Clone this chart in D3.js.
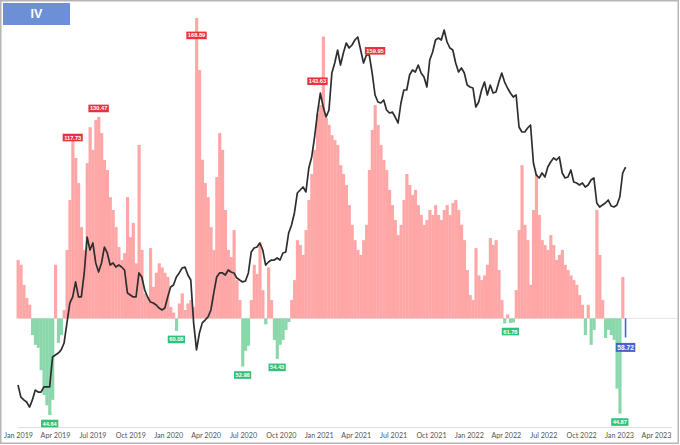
<!DOCTYPE html>
<html><head><meta charset="utf-8">
<script src="https://cdn.jsdelivr.net/npm/d3@7"></script>
<style>body{margin:0;background:#fff}svg{display:block}</style>
</head><body>
<svg id="c" width="680" height="445"></svg>
<script>
// ---- data (weekly, starting 2019-01-01) ----
const startDate = "2019-01-01";
const ivValues = [
77.2,75.9,70.7,67.5,65.9,59.2,57.2,56.6,52.3,47.9,
46.2,44.64,47.1,75.9,57.6,59.2,64.7,80,95.4,117.7,
110.7,101.3,86.7,80,108.7,123.4,113.9,126.6,128,120.9,
109.9,106.1,96.4,92.1,86.7,80.8,77.2,79.1,96.4,83.7,
88,76.3,115.9,80,68.6,67.7,80.5,70.2,73.8,76.3,
75.2,73.8,72.7,65.4,64.1,60.08,66.2,68.6,64.7,66.2,
67,65.4,181.5,151,110,101.3,96.4,86.7,80,103.5,
120.9,113.9,92.1,80,78,85.8,71.9,67,52.98,56,
57,67,75.9,73.5,82,69.4,61.5,75.2,67,58.2,
54.43,57.2,58.2,60.3,62,67,71.9,82.8,81.4,78.6,
85.8,95.4,104.6,113.9,129.4,133.5,170,127.5,124.4,120,
117.9,115.9,107.9,104.6,100.6,93.7,87.4,82.8,80,78.6,
82.8,87.4,106.1,122.2,133.5,124.4,115.9,109.9,106.1,98.9,
93.7,88.9,84.3,87.4,95.4,104.6,100.6,97.1,98.9,93.7,
90.5,87.4,88.9,92.1,90.5,93.7,90.5,88.9,92.1,93.7,
90.5,94.4,95.4,92.1,87.4,82.8,74.5,68.2,67,80.5,
73.1,71.9,73.1,75.9,83.4,81.4,82.8,74.5,67,61.7,
63.7,61.78,61.9,69.4,85.8,107.9,87.4,82.8,70.7,92.1,
104.6,90.5,82.8,81.4,80,84.3,81.4,77.2,78.6,80,
75.9,74.5,73.1,71.9,70.7,68.2,65.9,59.2,65.9,57.2,
60.3,92.1,78.6,67,58.6,60.3,59.2,58.2,49,44.87,
72.7,58.72
];
const priceValues = [
4060,3690,3610,3550,3410,3610,3900,3840,3840,4000,
4000,4000,5060,5140,5220,5350,5650,6620,7740,8120,
9140,8120,8120,9810,13020,11750,12420,10610,9880,10610,
12030,11480,10440,10610,10280,10440,10280,10040,8380,8250,
8120,8120,9810,9500,8580,8120,7800,7740,7620,7440,
7330,7440,8120,8780,8920,9500,9810,10200,10280,9650,
9280,6620,5350,6110,6620,6770,6940,7330,8380,9500,
9810,9810,9650,10040,9880,9810,9430,9280,9140,9210,
9810,11570,11940,12030,12420,11750,10440,10690,10860,10860,
11040,10860,11480,11570,13440,14310,15730,18410,18850,19300,
18560,22420,24450,28610,34570,40460,36240,33490,35390,47360,
51240,56760,50440,55440,59980,57670,59040,61410,62890,56760,
51240,54570,54570,47360,39830,37690,37400,38290,35390,34570,
34840,33490,31950,37400,41430,41430,46620,48490,47740,50440,
47360,45890,42420,52470,55880,61410,62390,61410,66450,60460,
57670,56760,51240,47740,49270,47360,43090,42420,42090,36240,
37690,41430,44120,39830,43090,40460,40780,44120,47360,44120,
42090,40460,39210,39830,30960,29760,29760,30720,31450,23320,
21210,20720,21550,20880,22590,23500,24250,23870,24450,21550,
20720,20880,22070,20080,19920,19610,19920,19300,19610,20390,
20720,17020,16490,16750,17020,17420,16620,16490,16750,17840,
21550,22590
];
const tickDates = ["2019-01-01","2019-04-01","2019-07-01","2019-10-01","2020-01-01","2020-04-01",
  "2020-07-01","2020-10-01","2021-01-01","2021-04-01","2021-07-01","2021-10-01","2022-01-01",
  "2022-04-01","2022-07-01","2022-10-01","2023-01-01","2023-04-01"];
const annIndex = [19, 28, 62, 104, 124, 11, 55, 78, 90, 171, 209, 211];
const annValue = [117.73, 130.47, 168.89, 143.63, 159.95, 44.64, 60.08, 52.98, 54.43, 61.78, 44.87, 58.72];
const baseIV = 62.8;
const titleText = "IV";

// ---- drawing ----
const svg = d3.select("#c");
const RED = "#ffa7a7", GREEN = "#8ad7ab", LINE = "#2e2e2e";
const RED_L = "#e8333d", GREEN_L = "#35bf78", BLUE_L = "#4168c8";

const parse = d3.utcParse("%Y-%m-%d");
const t0 = parse(startDate).getTime();
const dates = ivValues.map((_, i) => new Date(t0 + i * 7 * 86400000));

const x = d3.scaleUtc().domain([parse("2019-01-01"), parse("2023-04-01")]).range([18, 656]);
const yIV = d3.scaleLog().domain([44.64, 168.89]).range([415, 38.4]);
const yP = d3.scaleLog().domain([3000, 70000]).range([423.4, 23.4]);
const step = x(dates[1]) - x(dates[0]);

// frame
svg.append("rect").attr("x", 0.75).attr("y", 0.75).attr("width", 677.5).attr("height", 442.5)
  .attr("fill", "#fff").attr("stroke", "#b5b5b5").attr("stroke-width", 1.5);

// baseline
const yb = yIV(baseIV);
svg.append("line").attr("x1", 18).attr("x2", 678).attr("y1", yb).attr("y2", yb)
  .attr("stroke", "#e4e4e4").attr("stroke-width", 1);

// axis
const ax = svg.append("g").attr("transform", "translate(0,427)")
  .call(d3.axisBottom(x).tickValues(tickDates.map(parse)).tickFormat(d3.utcFormat("%b %Y"))
    .tickSize(0).tickSizeOuter(0).tickPadding(6));
ax.select(".domain").attr("stroke", "#dedede").attr("d", "M18,0.5H672");
ax.selectAll("text").attr("fill", "#555").style("font-family", "Lato, 'Liberation Sans', sans-serif")
  .style("font-size", "7.2px");

// bars
const last = ivValues.length - 1;
svg.append("g").selectAll("rect").data(ivValues.slice(0, last)).join("rect")
  .attr("x", (d, i) => x(dates[i]) - step / 2)
  .attr("width", step + 0.3)
  .attr("y", d => Math.min(yb, yIV(d)))
  .attr("height", d => Math.abs(yIV(d) - yb))
  .attr("fill", d => d >= baseIV ? RED : GREEN);

// current value marker
svg.append("line").attr("x1", x(dates[last])).attr("x2", x(dates[last]))
  .attr("y1", yb).attr("y2", yIV(ivValues[last]))
  .attr("stroke", BLUE_L).attr("stroke-width", 1.6);

// price line
const line = d3.line().x((d, i) => x(dates[i])).y(d => yP(d));
svg.append("path").datum(priceValues).attr("d", line)
  .attr("fill", "none").attr("stroke", LINE).attr("stroke-width", 1.7).attr("stroke-linejoin", "round");

// annotations
annIndex.forEach((idx, k) => {
  const v = annValue[k];
  const up = v >= baseIV;
  const isCur = idx === last;
  const cx = x(dates[idx]);
  const cy = up ? yIV(v) - 3 : yIV(v) + (isCur ? 10 : 8.5);
  const g = svg.append("g");
  const fs = isCur ? 6.6 : 5.7;
  const t = g.append("text").text(v.toFixed(2))
    .attr("x", cx).attr("y", cy).attr("text-anchor", "middle").attr("dominant-baseline", "central")
    .attr("fill", "#fff").style("font-family", "'Liberation Sans', Arial, sans-serif")
    .style("font-weight", "bold").style("font-size", fs + "px");
  const w = t.node().getComputedTextLength() + 3;
  const h = isCur ? 9 : 7.6;
  g.insert("rect", "text").attr("x", cx - w / 2).attr("y", cy - h / 2).attr("width", w).attr("height", h)
    .attr("fill", isCur ? BLUE_L : (up ? RED_L : GREEN_L));
});

// title box
svg.append("rect").attr("x", 3).attr("y", 3).attr("width", 67).attr("height", 22).attr("fill", "#6c8fd7");
svg.append("text").text(titleText).attr("x", 36.5).attr("y", 13.5).attr("text-anchor", "middle")
  .attr("dominant-baseline", "central").attr("fill", "#fff")
  .style("font-family", "'Liberation Sans', Arial, sans-serif").style("font-weight", "bold").style("font-size", "12.5px");
</script>
</body></html>
